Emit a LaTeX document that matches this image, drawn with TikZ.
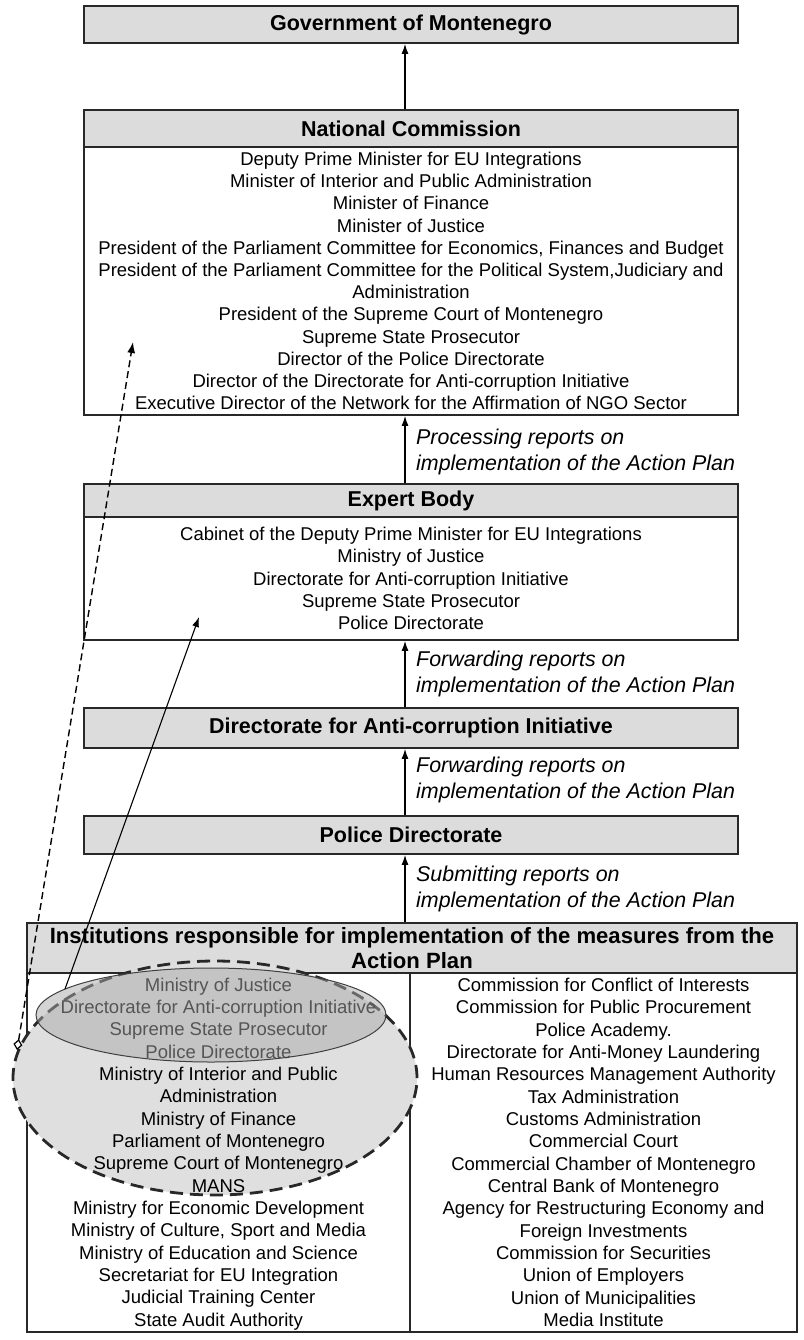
\documentclass[tikz,border=0pt]{standalone}
\usepackage{fontspec}
\setmainfont{Liberation Sans}
\usetikzlibrary{arrows.meta,shapes.geometric}
\definecolor{hdrgray}{RGB}{220,220,220}
\definecolor{ellgray}{RGB}{223,223,223}
\definecolor{ovlgray}{RGB}{170,170,170}
\definecolor{edge}{RGB}{40,40,40}
\tikzset{
  hdrbox/.style={draw=edge, line width=1.7pt, fill=hdrgray, minimum width=654pt, inner sep=0pt,
    align=center, font=\fontsize{21.5}{25}\selectfont\bfseries},
  bodybox/.style={draw=edge, line width=1.7pt, fill=white, minimum width=654pt, inner sep=0pt,
    align=center, font=\fontsize{18.5}{22.2}\selectfont},
  coltext/.style={inner sep=0pt, align=center, font=\fontsize{18.5}{22.33}\selectfont},
  lbl/.style={anchor=west, align=left, inner sep=0pt, font=\fontsize{21.4}{26}\selectfont\itshape},
  flow/.style={line width=1.3pt, draw=black, -{Latex[length=10pt,width=7pt]}},
}
\begin{document}
\begin{tikzpicture}[x=1pt,y=-1pt]
\useasboundingbox (0,0) rectangle (803,1340);
\fill[white] (0,0) rectangle (803,1340);
\coordinate (ax) at (405,0);

% upper chain
\node[hdrbox, minimum height=37pt] (gov) at (411,24.5) {Government of Montenegro};
\node[hdrbox, minimum height=37pt] (nch) at (411,128.5) {National Commission};
\node[bodybox, minimum height=268pt] (ncb) at (411,281) {Deputy Prime Minister for EU Integrations\\
Minister of Interior and Public Administration\\
Minister of Finance\\
Minister of Justice\\
President of the Parliament Committee for Economics, Finances and Budget\\
President of the Parliament Committee for the Political System,Judiciary and\\
Administration\\
President of the Supreme Court of Montenegro\\
Supreme State Prosecutor\\
Director of the Police Directorate\\
Director of the Directorate for Anti-corruption Initiative\\
Executive Director of the Network for the Affirmation of NGO Sector};

\node[hdrbox, minimum height=33pt] (ebh) at (411,500.5) {Expert Body};
\node[bodybox, minimum height=123pt] (ebb) at (411,578.5) {Cabinet of the Deputy Prime Minister for EU Integrations\\
Ministry of Justice\\
Directorate for Anti-corruption Initiative\\
Supreme State Prosecutor\\
Police Directorate};

\node[hdrbox, minimum height=40pt] (dai) at (411,728) {Directorate for Anti-corruption Initiative};
\node[hdrbox, minimum height=38pt] (pol) at (411,835) {Police Directorate};

% institutions table
\node[hdrbox, minimum width=770pt, minimum height=50pt, font=\fontsize{22.1}{25}\selectfont\bfseries] (thdr) at (412,948)
  {Institutions responsible for implementation of the measures from the\\Action Plan};
\node[draw=edge, line width=1.7pt, fill=white, minimum width=383pt, minimum height=359pt, inner sep=0pt] (lcol) at (218.5,1152.5) {};
\node[draw=edge, line width=1.7pt, fill=white, minimum width=387pt, minimum height=359pt, inner sep=0pt, coltext] (rcol) at (603.5,1152.5) {Commission for Conflict of Interests\\
Commission for Public Procurement\\
Police Academy.\\
Directorate for Anti-Money Laundering\\
Human Resources Management Authority\\
Tax Administration\\
Customs Administration\\
Commercial Court\\
Commercial Chamber of Montenegro\\
Central Bank of Montenegro\\
Agency for Restructuring Economy and\\
Foreign Investments\\
Commission for Securities\\
Union of Employers\\
Union of Municipalities\\
Media Institute};

\node[ellipse, draw=edge, line width=2.8pt, dash pattern=on 13pt off 7pt, fill=ellgray,
  minimum width=404pt, minimum height=234pt, inner sep=0pt] (bigell) at (215,1078) {};

\node[coltext] (ltext) at (218.5,1154) {Ministry of Justice\\
Directorate for Anti-corruption Initiative\\
Supreme State Prosecutor\\
Police Directorate\\
Ministry of Interior and Public\\
Administration\\
Ministry of Finance\\
Parliament of Montenegro\\
Supreme Court of Montenegro\\
MANS\\
Ministry for Economic Development\\
Ministry of Culture, Sport and Media\\
Ministry of Education and Science\\
Secretariat for EU Integration\\
Judicial Training Center\\
State Audit Authority};

\node[ellipse, draw=black!75, line width=1pt, fill=ovlgray, fill opacity=0.5, draw opacity=1,
  minimum width=350pt, minimum height=94pt, inner sep=0pt] (inell) at (211,1015) {};

% main flow arrows
\draw[flow] (nch.north -| ax) -- (gov.south -| ax);
\draw[flow] (ebh.north -| ax) -- (ncb.south -| ax);
\draw[flow] (dai.north -| ax) -- (ebb.south -| ax);
\draw[flow] (pol.north -| ax) -- (dai.south -| ax);
\draw[flow] (thdr.north -| ax) -- (pol.south -| ax);

% labels
\node[lbl] (l1) at (416,452) {Processing reports on\\implementation of the Action Plan};
\node[lbl] (l2) at (416,674) {Forwarding reports on\\implementation of the Action Plan};
\node[lbl] (l3) at (416,779.5) {Forwarding reports on\\implementation of the Action Plan};
\node[lbl] (l4) at (416,888.5) {Submitting reports on\\implementation of the Action Plan};

% side arrows
\coordinate (dtail) at (17,1050);
\coordinate (dhead) at (133,342);
\draw[line width=1.4pt, dash pattern=on 7pt off 4pt,
  {Diamond[open,length=11pt,width=9pt,sep=0pt,line width=1.2pt]}-{Latex[length=11pt,width=8pt]}] (dtail) -- (dhead);
\coordinate (stail) at (65,989);
\coordinate (shead) at (199,617);
\draw[flow, line width=1.1pt] (stail) -- (shead);
\end{tikzpicture}
\end{document}
